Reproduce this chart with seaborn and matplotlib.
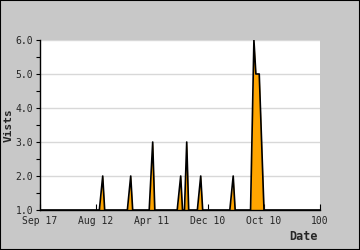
import matplotlib
matplotlib.use("Agg")
import matplotlib.pyplot as plt
import seaborn as sns
import pandas as pd
import numpy as np

# spike data (x position, visits)
x_vals = [0, 21.2, 22.4, 23.1, 31.2, 32.4, 33.1, 39.0, 40.25, 41.0,
          49.0, 50.25, 50.9, 51.6, 52.4, 53.1, 56.2, 57.4, 58.1,
          67.8, 69.0, 69.7, 75.2, 76.4, 77.1, 78.3, 80.0, 100]
y_vals = [1, 1, 2, 1, 1, 2, 1, 1, 3, 1,
          1, 2, 1, 1, 3, 1, 1, 2, 1,
          1, 2, 1, 1, 6, 5, 5, 1, 1]
x_ticks = [0, 20, 40, 60, 80, 100]
x_tick_labels = ["Sep 17", "Aug 12", "Apr 11", "Dec 10", "Oct 10", "100"]
y_ticks = [1, 2, 3, 4, 5, 6]

df = pd.DataFrame({"x": x_vals, "y": y_vals})

sns.set_style("white")
plt.rcParams["font.family"] = ["DejaVu Sans Mono"]

fig = plt.figure(figsize=(3.6, 2.5), dpi=100, facecolor="#c8c8c8")
ax = fig.add_axes([40/360, 40/250, 280/360, 170/250])
ax.set_facecolor("white")

ax.fill_between(df["x"], 1, df["y"], color="#ffa500", linewidth=0, zorder=2)
sns.lineplot(data=df, x="x", y="y", ax=ax, color="black", linewidth=1.2, zorder=3)

ax.set_xlim(0, 100)
ax.set_ylim(1, 6)
ax.set_yticks(y_ticks)
ax.set_yticklabels([f"{v:.1f}" for v in y_ticks], fontsize=7)
ax.set_yticks(np.arange(1, 6.01, 0.5), minor=True)
ax.set_xticks(x_ticks)
ax.set_xticklabels(x_tick_labels, fontsize=7)
ax.yaxis.grid(True, color="#d8d8d8", linewidth=1)
ax.set_axisbelow(True)
ax.tick_params(axis="y", which="both", direction="out", length=3, width=0.8,
               color="black", left=True, pad=2)
ax.tick_params(axis="x", direction="in", length=4, width=0.8, color="black",
               bottom=True, pad=4)
for s in ["top", "right"]:
    ax.spines[s].set_visible(False)
for s in ["left", "bottom"]:
    ax.spines[s].set_color("black")
    ax.spines[s].set_linewidth(1)
ax.set_xlabel("")
ax.set_ylabel("")
fig.text(9/360, 1 - 125/250, "Vists", rotation=90, fontsize=8,
         fontweight="bold", ha="center", va="center")
fig.text(318/360, 1 - 236/250, "Date", fontsize=8.5, fontweight="bold",
         ha="right", va="center")
fig.patches.append(plt.Rectangle((0, 0), 1, 1, transform=fig.transFigure,
                                 fill=False, edgecolor="black", linewidth=1.5))
fig.savefig("out.png", dpi=100, facecolor="#c8c8c8")
